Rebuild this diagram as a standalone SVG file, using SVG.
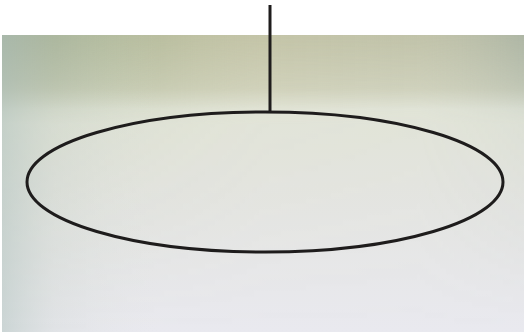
<svg xmlns="http://www.w3.org/2000/svg" width="524" height="332" viewBox="0 0 524 332">
<defs>
<linearGradient id="bgv" x1="0" y1="0" x2="0" y2="1">
<stop offset="0" stop-color="#c0c2a6"/>
<stop offset="0.18" stop-color="#d0d2bc"/>
<stop offset="0.25" stop-color="#e2e5d8"/>
<stop offset="0.5" stop-color="#e4e5e0"/>
<stop offset="1" stop-color="#e9e9ef"/>
</linearGradient>
<linearGradient id="bgh" x1="0" y1="0" x2="1" y2="0">
<stop offset="0" stop-color="#7e9276" stop-opacity="0.7"/>
<stop offset="0.2" stop-color="#9cad88" stop-opacity="0.45"/>
<stop offset="0.5" stop-color="#d4cfb0" stop-opacity="0.2"/>
<stop offset="0.8" stop-color="#c8cac0" stop-opacity="0.15"/>
<stop offset="1" stop-color="#98a8a4" stop-opacity="0.45"/>
</linearGradient>
<linearGradient id="topfade" x1="0" y1="0" x2="0" y2="1">
<stop offset="0" stop-color="#fff" stop-opacity="1"/>
<stop offset="0.15" stop-color="#fff" stop-opacity="0.7"/>
<stop offset="0.3" stop-color="#fff" stop-opacity="0.15"/>
<stop offset="1" stop-color="#fff" stop-opacity="0"/>
</linearGradient>
<mask id="m1"><rect x="0" y="35" width="524" height="297" fill="url(#topfade)"/></mask>
<linearGradient id="leftv" x1="0" y1="0" x2="1" y2="0">
<stop offset="0" stop-color="#b8c8c4" stop-opacity="0.6"/>
<stop offset="0.1" stop-color="#c8d2cc" stop-opacity="0.25"/>
<stop offset="0.3" stop-color="#e0e4e0" stop-opacity="0"/>
</linearGradient>
<style>
.stroke{fill:none;stroke:#1e1c1c;stroke-width:3}
</style>
</defs>
<rect width="524" height="332" fill="#ffffff"/>
<g id="background">
<rect x="2" y="35" width="522" height="297" fill="url(#bgv)"/>
<rect x="2" y="35" width="522" height="297" fill="url(#bgh)" mask="url(#m1)"/>
<rect x="2" y="35" width="522" height="297" fill="url(#leftv)"/>
</g>
<g id="connectors">
<line class="stroke" x1="270" y1="5" x2="270" y2="112"/>
</g>
<g id="ellipse-node">
<ellipse class="stroke" cx="265" cy="182" rx="238" ry="70"/>
</g>
</svg>
